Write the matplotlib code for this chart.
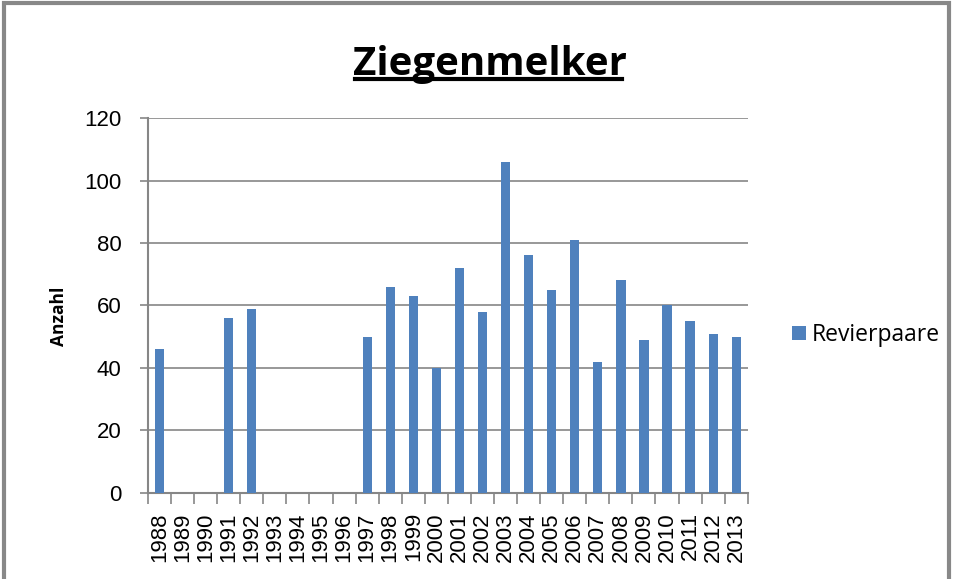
import numpy as np
import matplotlib.pyplot as plt
from matplotlib.patches import Rectangle

years = [str(y) for y in range(1988, 2014)]
revierpaare = [46, 0, 0, 56, 59, 0, 0, 0, 0, 50, 66, 63, 40, 72, 58,
               106, 76, 65, 81, 42, 68, 49, 60, 55, 51, 50]

bar_color = '#4F81BD'
grid_color = '#868686'

fig = plt.figure(figsize=(9.55, 5.79), dpi=100)
ax = fig.add_axes([0.155, 0.149, 0.628, 0.647])

x = np.arange(len(years))
ax.bar(x, revierpaare, width=0.4, color=bar_color, label='Revierpaare', zorder=3)

ax.set_xlim(-0.5, len(years) - 0.5)
ax.set_ylim(0, 120)
ax.set_yticks(range(0, 121, 20))
ax.yaxis.grid(True, color=grid_color, linewidth=1.2, zorder=0)

ax.set_xticks(x)
ax.set_xticklabels(years, rotation=90, fontsize=16, family='Liberation Sans')
ax.tick_params(axis='x', length=0, pad=14)
ax.set_xticks(np.arange(-0.5, len(years)), minor=True)
ax.tick_params(axis='x', which='minor', length=8, color=grid_color, width=1.2)
ax.tick_params(axis='y', length=6, color=grid_color, width=1.2, labelsize=16, pad=13)
for lbl in ax.get_yticklabels():
    lbl.set_family('Liberation Sans')

for s in ['top', 'right']:
    ax.spines[s].set_visible(False)
for s in ['left', 'bottom']:
    ax.spines[s].set_color(grid_color)
    ax.spines[s].set_linewidth(1.5)

ax.set_ylabel('Anzahl', fontsize=12.5, fontweight='bold', family='Open Sans')
ax.yaxis.set_label_coords(-0.133, 0.472)

fig.text(0.513, 0.889, 'Ziegenmelker', ha='center', va='center', fontsize=29,
         fontweight='bold', family='Open Sans')
fig.add_artist(plt.Line2D([0.372, 0.651], [0.8636, 0.8636], color='black', linewidth=3))

leg = ax.legend(loc='center left', bbox_to_anchor=(1.073, 0.421), frameon=False,
                prop={'family': 'Open Sans', 'size': 16.5}, handlelength=0.62,
                handleheight=0.6, handletextpad=0.27, borderpad=0, borderaxespad=0)

fig.add_artist(Rectangle((0.004, -0.01), 0.99, 1.004, transform=fig.transFigure,
                         fill=False, edgecolor='#888888', linewidth=3))

fig.savefig('out.png', dpi=100)
